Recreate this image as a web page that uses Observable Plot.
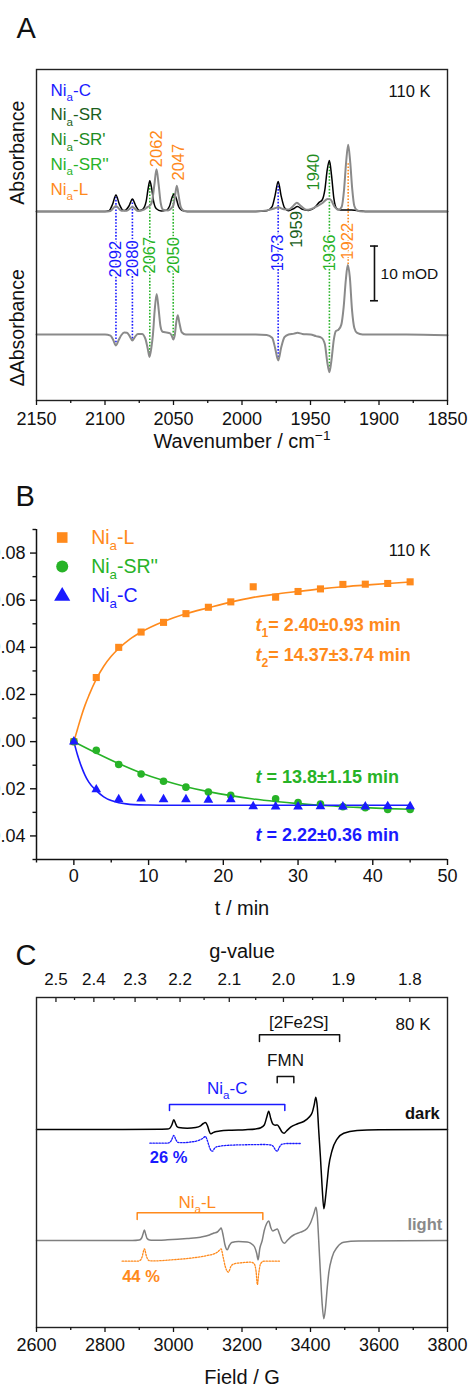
<!DOCTYPE html>
<html><head><meta charset="utf-8">
<script src="https://cdn.jsdelivr.net/npm/d3@7"></script>
<script src="https://cdn.jsdelivr.net/npm/@observablehq/plot@0.6"></script>
<style>
html,body{margin:0;padding:0;background:#fff;}
#wrap{width:470px;}
#wrap svg{display:block;}
</style></head><body><div id="wrap"></div>
<script>
// ---------- colours ----------
const BLUE = "#1a1aff", SR = "#1b5e1b", SR1 = "#1f8c1f", SR2 = "#27b327", ORANGE = "#ff8a1c", GRAY = "#8a8a8a";
const FONT = "Liberation Sans, Arial, Helvetica, sans-serif";

// ---------- Panel A data (wavenumber cm-1, mOD relative to each trace baseline) ----------
const irTicks = [2150, 2100, 2050, 2000, 1950, 1900, 1850];
const irMinor = [2125, 2075, 2025, 1975, 1925, 1875];
const baseTop = 34.55, baseDiff = 12.07;
const darkIR = [[2150,0],[2100,0],[2097,0.15],[2094.5,1.3],[2092,3.0],[2089.5,1.3],[2087,0.25],[2085.5,0.2],[2082.5,1.0],[2080,2.3],[2077.5,1.0],[2075,0.2],[2072.5,0.4],[2070,1.8],[2068.5,4.2],[2067.3,5.6],[2066,4.3],[2064.5,1.8],[2062.5,0.5],[2059,0.1],[2055.5,0.2],[2053,0.9],[2051,2.6],[2049.5,3.2],[2048,2.4],[2046.3,0.9],[2044,0.2],[2040,0],[1990,0],[1982,0.15],[1978,0.9],[1975.8,3.0],[1973.6,5.5],[1971.4,2.8],[1969,0.7],[1966,0.15],[1962.5,0.5],[1959.5,0.9],[1956,0.4],[1951.5,0.2],[1947,0.7],[1943.5,1.7],[1941.5,2.1],[1939.5,4.0],[1937.8,7.6],[1936.2,9.3],[1934.6,6.5],[1933,2.5],[1931,0.6],[1928,0.25],[1920,0.25],[1915,0.15],[1910,0],[1850,0]];
const lightIR = [[2150,0],[2100,0],[2096,0.1],[2092,1.0],[2088,0.15],[2084,0.15],[2080,0.8],[2076,0.1],[2072,0.3],[2069,0.8],[2067,1.1],[2065.5,2.0],[2064,4.8],[2062.4,7.7],[2060.8,4.8],[2059.3,1.5],[2057.5,0.3],[2054,0.2],[2051.5,0.6],[2050,1.2],[2049,2.6],[2047.6,4.7],[2046.2,2.8],[2044.8,0.9],[2043,0.2],[2040,0],[1990,0],[1982,0.2],[1977,0.5],[1973.5,0.75],[1969.5,0.4],[1966,0.35],[1963,0.9],[1960,1.6],[1957,1.0],[1953,0.3],[1950,0.4],[1945,1.0],[1941,1.6],[1937.5,2.3],[1935.5,2.2],[1932.5,0.9],[1929.5,0.3],[1927.3,0.8],[1925.5,4.0],[1924,9.0],[1922.5,12.2],[1921,9.0],[1919.5,4.0],[1918,1.0],[1916,0.2],[1912,0],[1850,0]];
const diffIR = [[2150,0],[2100,0],[2096,-0.2],[2094,-1.0],[2092,-2.0],[2090,-1.0],[2088,-0.1],[2086,0.35],[2084,0.3],[2082,-0.3],[2080,-1.1],[2078,-0.4],[2076,0.1],[2073,0.1],[2070.5,-0.8],[2068.8,-2.6],[2067.5,-4.1],[2066.2,-2.5],[2065,0],[2063.8,4.2],[2062.3,7.4],[2060.8,4.5],[2059.5,1.5],[2058,0.5],[2055,0.35],[2052.5,0.2],[2051.2,-0.3],[2050.2,-0.9],[2049,0],[2048,2.2],[2046.9,3.5],[2045.6,2.0],[2044,0.4],[2041,0],[1990,0],[1982,-0.1],[1978,-0.6],[1975.8,-2.5],[1973.6,-4.75],[1971.4,-2.4],[1969,-0.5],[1966,0],[1962,0.15],[1959.5,0.3],[1956,0.1],[1950,0],[1946,-0.3],[1942,-0.6],[1939.5,-1.8],[1937.8,-5.0],[1936.2,-6.9],[1934.6,-4.5],[1933,-1.0],[1931.5,0.6],[1929.5,0.9],[1927.5,1.8],[1925.8,5.0],[1924.2,10.0],[1922.8,12.7],[1921.3,10.5],[1919.7,4.5],[1918,1.2],[1916,0.3],[1912,0],[1880,0],[1850,-0.15]];
const peakLines = [
  {w:2092, y1:37.17, y2:10.37, c:BLUE},{w:2080, y1:36.69, y2:11.15, c:BLUE},
  {w:2067.3, y1:39.91, y2:8.23, c:SR2},{w:2050.2, y1:37.79, y2:11.28, c:SR2},
  {w:1973.6, y1:39.73, y2:7.31, c:BLUE},{w:1936.2, y1:43.27, y2:5.48, c:SR2},
  {w:1922.5, y1:43.27, y2:24.86, c:ORANGE}];
const peakLabels = [
  {w:2092, y:25.83, t:"2092", c:BLUE},{w:2080, y:25.91, t:"2080", c:BLUE},
  {w:2067.3, y:26.56, t:"2067", c:SR2},{w:2050.2, y:26.51, t:"2050", c:SR2},
  {w:1973.6, y:26.97, t:"1973", c:BLUE},{w:1936.2, y:26.97, t:"1936", c:SR2},
  {w:1922.5, y:29.10, t:"1922", c:ORANGE},{w:2062.2, y:46.01, t:"2062", c:ORANGE},
  {w:2046, y:43.56, t:"2047", c:ORANGE},{w:1948, y:41.74, t:"1940", c:SR1},
  {w:1959.7, y:31.26, t:"1959", c:SR}];
const legendA = [
  {t:"Ni_{a}-C", c:BLUE, y:56.67},{t:"Ni_{a}-SR", c:SR, y:52.19},{t:"Ni_{a}-SR'", c:SR1, y:47.62},
  {t:"Ni_{a}-SR''", c:SR2, y:43.14},{t:"Ni_{a}-L", c:ORANGE, y:38.57}];
const scaleBar = {w:1903.3, lo:18.23, hi:28.23, wL:1906.2, wR:1900.4};

// ---------- Panel B data (t / min, signal) ----------
const kinT  = [0,3,6,9,12,15,18,21,24,27,30,33,36,39,42,45];
const niL   = [0,0.0272,0.040,0.0465,0.0506,0.0543,0.057,0.0593,0.0657,0.0613,0.0637,0.0648,0.0667,0.0668,0.0671,0.0678];
const niSR2 = [0,-0.0037,-0.0097,-0.0137,-0.0168,-0.0193,-0.0214,-0.0228,null,-0.0242,-0.0258,-0.0265,-0.0276,-0.028,-0.0288,-0.0288];
const niC   = [0,-0.0203,-0.0245,-0.0242,-0.0245,-0.0245,-0.0247,-0.0245,-0.0275,-0.0276,-0.0276,-0.0275,-0.0276,-0.0276,-0.0274,-0.0275];
const fitL  = [[0,0],[0.5,0.0055],[1,0.0108],[1.5,0.0155],[2,0.0195],[3,0.0265],[4,0.032],[5,0.0362],[6,0.0395],[7.5,0.0435],[9,0.0465],[12,0.051],[15,0.0543],[18,0.0568],[21,0.0592],[24,0.0612],[27,0.0626],[30,0.0637],[33,0.0648],[36,0.0657],[39,0.0664],[42,0.0671],[45,0.0677]];
const fitSR2 = [[0,0],[3,-0.0048],[6,-0.0093],[9,-0.0133],[12,-0.0165],[15,-0.0191],[18,-0.0212],[21,-0.0229],[24,-0.0243],[27,-0.0254],[30,-0.0263],[33,-0.027],[36,-0.0276],[39,-0.028],[42,-0.0284],[45,-0.0287]];
const fitC  = [[0,0],[0.5,-0.0058],[1,-0.0105],[1.5,-0.0143],[2,-0.0172],[3,-0.0208],[4,-0.0234],[5,-0.0250],[6,-0.0259],[7,-0.0264],[8,-0.0267],[10,-0.0269],[13,-0.0270],[20,-0.0270],[45,-0.0270]];
const kinTicks = [0,10,20,30,40,50], kinMinor = [-5,5,15,25,35,45];
const sigTicks = [-0.04,-0.02,0,0.02,0.04,0.06,0.08], sigMinor = [-0.05,-0.03,-0.01,0.01,0.03,0.05,0.07,0.09];

// ---------- Panel C data (field / G, EPR a.u. relative to baseline) ----------
const fieldTicks = [2600,2800,3000,3200,3400,3600,3800], fieldMinor = [2700,2900,3100,3300,3500,3700];
const gMajor = [2.5,2.4,2.3,2.2,2.1,2.0,1.9,1.8], gMinor = [2.45,2.35,2.25,2.15,2.05,1.95,1.85];
const hvOverMuB = 6642; // G, field = hv/(muB g)
const offDark = 198, offNiC = 184.3, offLight = 87, offNiL = 66.3;
const darkEPR = [[2600,0],[2800,0],[2960,0.3],[2982,0.4],[2990,1.5],[2995,4.5],[3001,9.7],[3006,6],[3010,3],[3015,2],[3040,1.3],[3065,2],[3079,3.7],[3087,6],[3093,7],[3099,4],[3104,-1.5],[3108,-4.3],[3114,-3.5],[3122,-2.2],[3135,-1.5],[3170,-0.7],[3210,-0.2],[3240,0.6],[3255,1.8],[3265,4.5],[3272,12],[3278,18.3],[3284,11],[3290,5.5],[3297,4.3],[3303,4.5],[3309,2.0],[3316,-2.2],[3323,-3.7],[3330,-1.5],[3342,2.3],[3361,5.5],[3380,8],[3395,12],[3405,17],[3411,25],[3415.5,32.3],[3420,22],[3424,-1],[3429,-27.7],[3434,-57.7],[3439,-79.3],[3444,-67.7],[3449,-51],[3453,-37.7],[3463,-21],[3478,-9.3],[3497,-3.7],[3536,-1],[3600,-0.3],[3800,0]];
const niCsim = [[2931,0],[2980,0],[2988,0.5],[2994,3],[3001,7.7],[3007,3.5],[3013,0.8],[3025,0.5],[3050,1.2],[3075,3],[3086,5],[3093,6.7],[3099,2.5],[3104,-3],[3110,-7.5],[3114,-8],[3120,-5],[3130,-3.3],[3166,-2],[3220,-1.5],[3264,-1.3],[3285,-1.8],[3293,-4],[3298,-7],[3303,-8],[3309,-4],[3317,-1],[3330,-0.3],[3371,-0.3]];
const lightEPR = [[2600,0],[2880,0],[2900,0.5],[2907,2.5],[2911,6.5],[2915,10.5],[2919,6],[2923,2],[2930,0.5],[2940,0.2],[2982,0.7],[3040,2],[3079,3.3],[3105,5.5],[3118,7.5],[3128,8.5],[3135,11],[3139,12.5],[3145,5],[3150,-4],[3157,-9.3],[3163,-5],[3170,-2],[3190,-1],[3215,-1.5],[3225,-2.7],[3236,-6],[3243,-13],[3247,-19.3],[3252,-8],[3259,0],[3265,10],[3272,17],[3278,19.5],[3284,13],[3290,9.5],[3296,10.5],[3303,11.5],[3310,6],[3317,-0.5],[3324,-2.7],[3332,0],[3342,3.3],[3351,5.5],[3371,8.3],[3390,12],[3400,17.5],[3410,27],[3416,33.3],[3420,24],[3424,0],[3429,-33],[3434,-63],[3439,-78.3],[3444,-66.7],[3449,-46.7],[3453,-33.3],[3463,-16.7],[3478,-6.7],[3497,-1.7],[3540,-0.5],[3800,0]];
const niLsim = [[2850,0],[2895,0],[2903,1],[2908,4],[2915,12.3],[2921,5],[2928,0.7],[2940,0.3],[3000,1.5],[3060,3.5],[3100,5.8],[3118,7.3],[3130,9.5],[3139,12.3],[3145,4],[3151,-5],[3160,-11],[3168,-5],[3176,-2.7],[3200,-1.5],[3225,-1],[3236,-2.7],[3241,-10],[3245,-23.3],[3249,-12],[3254,-2.7],[3264,0],[3312,0]];
const brackets = [
  {id:"fe", x1:3251, x2:3485, y:292.7, yEnd:286, c:"#111"},
  {id:"fmn", x1:3302.8, x2:3351.3, y:251, yEnd:244.7, c:"#111"},
  {id:"nic", x1:2988.3, x2:3325, y:223, yEnd:217, c:BLUE},
  {id:"nil", x1:2894, x2:3260.8, y:114.7, yEnd:108, c:ORANGE}];
const notesC = [
  {x:3365.8, y:305.3, t:"[2Fe2S]", c:"#111"},
  {x:3327, y:267, t:"FMN", c:"#111"},
  {x:3156.8, y:239, t:"Ni_{a}-C", c:BLUE},
  {x:3069.2, y:125.3, t:"Ni_{a}-L", c:ORANGE}];
const boldC = [
  {x:3777.5, y:213.7, t:"dark", c:"#111", a:"end"},
  {x:3784.6, y:102.7, t:"light", c:"#8a8a8a", a:"end"},
  {x:2930.8, y:169.7, t:"26 %", c:BLUE, a:"start"},
  {x:2850.2, y:51, t:"44 %", c:ORANGE, a:"start"}];

// ---------- helpers ----------
const pts = (arr, off) => arr.map(([x, y]) => ({x, y: y + off}));
const axisStyle = {fontFamily: FONT, fontSize: "18px", color: "#111", background: "white", overflow: "visible"};
const plain = d => String(d);

function rich(svg) {
  const NS = "http://www.w3.org/2000/svg";
  for (const t of svg.querySelectorAll("text")) {
    const s = t.textContent;
    if (t.children.length || !/[_^]\{|\*/.test(s)) continue;
    const fs = parseFloat(getComputedStyle(t).fontSize) || 16;
    t.textContent = "";
    let shift = 0;
    for (const p of s.split(/(_\{[^}]*\}|\^\{[^}]*\}|\*[^*]*\*)/)) {
      if (!p) continue;
      const ts = document.createElementNS(NS, "tspan");
      let want = 0;
      if (p.startsWith("_{")) { ts.textContent = p.slice(2, -1); ts.setAttribute("font-size", (fs * 0.68).toFixed(1)); want = 0.3 * fs; }
      else if (p.startsWith("^{")) { ts.textContent = p.slice(2, -1); ts.setAttribute("font-size", (fs * 0.68).toFixed(1)); want = -0.42 * fs; }
      else if (p.startsWith("*")) { ts.textContent = p.slice(1, -1); ts.setAttribute("font-style", "italic"); }
      else ts.textContent = p;
      if (want !== shift) { ts.setAttribute("dy", (want - shift).toFixed(2)); shift = want; }
      t.appendChild(ts);
    }
  }
}

// ---------- Panel A ----------
const A = Plot.plot({
  width: 470, height: 455, marginLeft: 36, marginRight: 23, marginTop: 69, marginBottom: 55,
  x: {domain: [2150, 1850], label: null},
  y: {domain: [0, 60.5], axis: null},
  color: {type: "identity"},
  style: axisStyle,
  marks: [
    Plot.ruleX(peakLines, {x: "w", y1: "y1", y2: "y2", stroke: "c", strokeWidth: 1.6, strokeDasharray: "1.6,1.6"}),
    Plot.text(peakLabels, {x: "w", y: "y", text: "t", fill: "c", rotate: -90, fontSize: 16.5, stroke: "white", strokeWidth: 3}),
    Plot.line(pts(darkIR, baseTop), {x: "x", y: "y", stroke: "#000", strokeWidth: 1.5, curve: "monotone-x"}),
    Plot.line(pts(lightIR, baseTop), {x: "x", y: "y", stroke: GRAY, strokeWidth: 2, curve: "monotone-x"}),
    Plot.line(pts(diffIR, baseDiff), {x: "x", y: "y", stroke: GRAY, strokeWidth: 2, curve: "monotone-x"}),
    Plot.ruleX([scaleBar], {x: "w", y1: "lo", y2: "hi", stroke: "#111", strokeWidth: 1.6}),
    Plot.ruleY([scaleBar.lo, scaleBar.hi], {x1: scaleBar.wL, x2: scaleBar.wR, stroke: "#111", strokeWidth: 1.6}),
    Plot.text(["10 mOD"], {x: 1898.9, y: 23.16, textAnchor: "start", fontSize: 15.5, fill: "#111"}),
    Plot.text(legendA, {x: 2139.8, y: "y", text: "t", fill: "c", textAnchor: "start", fontSize: 17}),
    Plot.text(["110 K"], {x: 1862.4, y: 56.5, textAnchor: "end", fontSize: 16.5, fill: "#111"}),
    Plot.text(["Absorbance"], {frameAnchor: "left", y: 45.3, dx: -18.5, rotate: -90, textAnchor: "middle", lineAnchor: "middle", fontSize: 19.5, fill: "#111"}),
    Plot.text(["ΔAbsorbance"], {frameAnchor: "left", y: 13.3, dx: -18.5, rotate: -90, textAnchor: "middle", lineAnchor: "middle", fontSize: 19.5, fill: "#111"}),
    Plot.text(["Wavenumber / cm^{−1}"], {frameAnchor: "bottom", dy: 41, lineAnchor: "middle", fontSize: 20, fill: "#111"}),
    Plot.text(["A"], {frameAnchor: "top-left", dx: -20, dy: -41, lineAnchor: "middle", textAnchor: "start", fontSize: 29, fill: "#111"}),
    Plot.frame({stroke: "#222", strokeWidth: 1.4}),
    Plot.axisX({ticks: irTicks, tickSize: 5, tickPadding: 7, tickFormat: plain, label: null, strokeWidth: 1.3, fontSize: 18}),
    Plot.axisX({ticks: irMinor, tickSize: 3, tickFormat: () => "", label: null, strokeWidth: 1.3})
  ]
});

// ---------- Panel B ----------
const rowsOf = (vals) => kinT.map((t, i) => ({t, v: vals[i]})).filter(d => d.v != null);
const fitRows = (arr) => arr.map(([t, v]) => ({t, v}));
const B = Plot.plot({
  width: 470, height: 470, marginLeft: 36, marginRight: 23, marginTop: 74, marginBottom: 66,
  x: {domain: [-5, 50], label: null},
  y: {domain: [-0.05, 0.09], label: null},
  color: {type: "identity"},
  style: axisStyle,
  marks: [
    Plot.line(fitRows(fitL), {x: "t", y: "v", stroke: ORANGE, strokeWidth: 1.6, curve: "monotone-x"}),
    Plot.line(fitRows(fitSR2), {x: "t", y: "v", stroke: SR2, strokeWidth: 1.6, curve: "monotone-x"}),
    Plot.line(fitRows(fitC), {x: "t", y: "v", stroke: BLUE, strokeWidth: 1.6, curve: "monotone-x"}),
    Plot.dot(rowsOf(niL), {x: "t", y: "v", symbol: "square", fill: ORANGE, r: 4}),
    Plot.dot(rowsOf(niSR2), {x: "t", y: "v", symbol: "circle", fill: SR2, r: 3.8}),
    Plot.dot(rowsOf(niC), {x: "t", y: "v", symbol: "triangle", fill: BLUE, r: 3.6}),
    Plot.dot([0.0866], {x: -1.56, y: d => d, symbol: "square", fill: ORANGE, r: 6}),
    Plot.dot([0.0743], {x: -1.56, y: d => d, symbol: "circle", fill: SR2, r: 6}),
    Plot.dot([0.0617], {x: -1.56, y: d => d, symbol: "triangle", fill: BLUE, r: 6}),
    Plot.text([{y: 0.0866, t: "Ni_{a}-L", c: ORANGE}, {y: 0.0743, t: "Ni_{a}-SR''", c: SR2}, {y: 0.0617, t: "Ni_{a}-C", c: BLUE}],
      {x: 2.32, y: "y", text: "t", fill: "c", textAnchor: "start", fontSize: 19.5}),
    Plot.text(["110 K"], {x: 47.73, y: 0.0811, textAnchor: "end", fontSize: 16.5, fill: "#111"}),
    Plot.text([{y: 0.0493, t: "*t*_{1}= 2.40±0.93 min", c: ORANGE}, {y: 0.0366, t: "*t*_{2}= 14.37±3.74 min", c: ORANGE},
               {y: -0.0150, t: "*t* = 13.8±1.15 min", c: SR2}, {y: -0.0398, t: "*t* = 2.22±0.36 min", c: BLUE}],
      {x: 24.3, y: "y", text: "t", fill: "c", textAnchor: "start", fontSize: 18, fontWeight: "bold"}),
    Plot.text(["t / min"], {frameAnchor: "bottom", dy: 49, lineAnchor: "middle", fontSize: 20, fill: "#111"}),
    Plot.text(["B"], {frameAnchor: "top-left", dx: -21, dy: -33, lineAnchor: "middle", textAnchor: "start", fontSize: 29, fill: "#111"}),
    Plot.ruleX([-5], {stroke: "#111", strokeWidth: 1.5}),
    Plot.ruleY([-0.05], {stroke: "#111", strokeWidth: 1.5}),
    Plot.axisX({ticks: kinTicks, tickSize: 6, tickPadding: 4, tickFormat: plain, label: null, strokeWidth: 1.4, fontSize: 18}),
    Plot.axisX({ticks: kinMinor, tickSize: 3.5, tickFormat: () => "", label: null, strokeWidth: 1.4}),
    Plot.axisY({ticks: sigTicks, tickSize: 6, tickPadding: 5, tickFormat: d3.format(".2f"), label: null, strokeWidth: 1.4, fontSize: 18}),
    Plot.axisY({ticks: sigMinor, tickSize: 3.5, tickFormat: () => "", label: null, strokeWidth: 1.4})
  ]
});

// ---------- Panel C ----------
const bracketPts = brackets.flatMap(b => [
  {id: b.id, c: b.c, x: b.x1, y: b.yEnd}, {id: b.id, c: b.c, x: b.x1, y: b.y},
  {id: b.id, c: b.c, x: b.x2, y: b.y}, {id: b.id, c: b.c, x: b.x2, y: b.yEnd}]);
const C = Plot.plot({
  width: 470, height: 462, marginLeft: 36, marginRight: 23, marginTop: 72, marginBottom: 60,
  x: {domain: [2600, 3800], label: null},
  y: {domain: [0, 330], axis: null},
  color: {type: "identity"},
  style: axisStyle,
  marks: [
    Plot.line(pts(niCsim, offNiC), {x: "x", y: "y", stroke: BLUE, strokeWidth: 1.3, strokeDasharray: "1.5,1.5", curve: "monotone-x"}),
    Plot.line(pts(niLsim, offNiL), {x: "x", y: "y", stroke: ORANGE, strokeWidth: 1.3, strokeDasharray: "1.5,1.5", curve: "monotone-x"}),
    Plot.line(pts(darkEPR, offDark), {x: "x", y: "y", stroke: "#000", strokeWidth: 1.5, curve: "monotone-x"}),
    Plot.line(pts(lightEPR, offLight), {x: "x", y: "y", stroke: "#7f7f7f", strokeWidth: 1.5, curve: "monotone-x"}),
    Plot.line(bracketPts, {x: "x", y: "y", z: "id", stroke: "c", strokeWidth: 1.5}),
    Plot.text(notesC, {x: "x", y: "y", text: "t", fill: "c", textAnchor: "middle", fontSize: 17}),
    Plot.text(["80 K"], {x: 3750.4, y: 303, textAnchor: "end", fontSize: 17, fill: "#111"}),
    Plot.text(boldC.filter(d => d.a === "end"), {x: "x", y: "y", text: "t", fill: "c", textAnchor: "end", fontSize: 16.5, fontWeight: "bold"}),
    Plot.text(boldC.filter(d => d.a === "start"), {x: "x", y: "y", text: "t", fill: "c", textAnchor: "start", fontSize: 16.5, fontWeight: "bold"}),
    Plot.ruleX(gMajor, {x: g => hvOverMuB / g, y1: 330, y2: 325, stroke: "#222", strokeWidth: 1.3}),
    Plot.ruleX(gMinor, {x: g => hvOverMuB / g, y1: 330, y2: 327, stroke: "#222", strokeWidth: 1.3}),
    Plot.text(gMajor, {x: g => hvOverMuB / g, frameAnchor: "top", dy: -18, lineAnchor: "middle", text: g => g.toFixed(1), fontSize: 17, fill: "#111"}),
    Plot.text(["g-value"], {frameAnchor: "top", dy: -46.3, lineAnchor: "middle", fontSize: 20, fill: "#111"}),
    Plot.text(["Field / G"], {frameAnchor: "bottom", dy: 49.7, lineAnchor: "middle", fontSize: 20, fill: "#111"}),
    Plot.text(["C"], {frameAnchor: "top-left", dx: -21, dy: -42, lineAnchor: "middle", textAnchor: "start", fontSize: 29, fill: "#111"}),
    Plot.frame({stroke: "#222", strokeWidth: 1.4}),
    Plot.axisX({ticks: fieldTicks, tickSize: 5, tickPadding: 6, tickFormat: plain, label: null, strokeWidth: 1.3, fontSize: 18}),
    Plot.axisX({ticks: fieldMinor, tickSize: 3, tickFormat: () => "", label: null, strokeWidth: 1.3})
  ]
});

const wrap = document.getElementById("wrap");
for (const s of [A, B, C]) { wrap.appendChild(s); rich(s); }
</script></body></html>
